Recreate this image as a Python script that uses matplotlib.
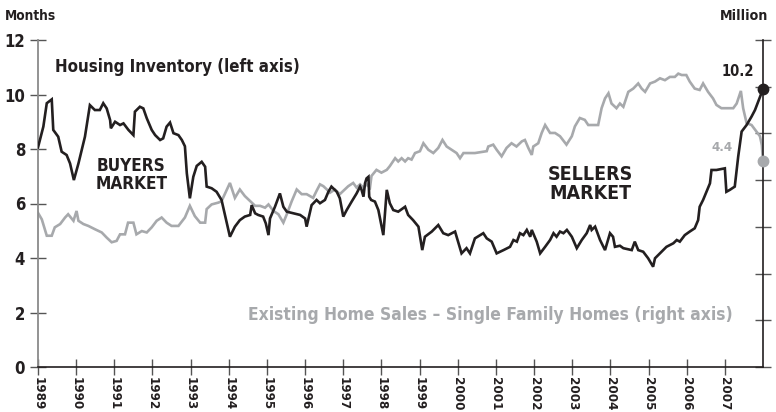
import os
import matplotlib
matplotlib.use('Agg')
import matplotlib.pyplot as plt
from matplotlib import font_manager
from matplotlib.font_manager import FontProperties

# Buscar una fuente condensada en negrita (la del original es estrecha)
preferidas = ['liberationsansnarrow-bold.ttf', 'dejavusanscondensed-bold.ttf',
              'robotocondensed-bold.ttf', 'notosans-condensedbold.ttf',
              'opensans-condensedbold.ttf', 'opensans_condensed-bold.ttf']
archivos = {os.path.basename(f.fname).lower(): f.fname for f in font_manager.fontManager.ttflist}
fuente = None
for p in preferidas:
    if p in archivos:
        fuente = archivos[p]
        break
if fuente is None:
    for n, ruta in archivos.items():
        if ('narrow' in n or 'condensed' in n) and 'bold' in n and 'italic' not in n and 'oblique' not in n:
            fuente = ruta
            break

if fuente is not None:
    FP = FontProperties(fname=fuente)
    K = 1.0
else:
    FP = FontProperties(family='DejaVu Sans', weight='bold')
    K = 0.88


def fp(size):
    f = FP.copy()
    f.set_size(size * K)
    return f


# Datos: inventario (meses, eje izquierdo)
inv_fecha = [1989.00, 1989.14, 1989.23, 1989.36, 1989.40, 1989.53, 1989.62, 1989.75, 1989.84, 1989.94,
             1990.06, 1990.23, 1990.36, 1990.49, 1990.62, 1990.71, 1990.80, 1990.89, 1990.91, 1991.02,
             1991.15, 1991.24, 1991.37, 1991.50, 1991.54, 1991.67, 1991.76, 1991.85, 1991.98, 1992.07,
             1992.20, 1992.28, 1992.37, 1992.46, 1992.55, 1992.68, 1992.77, 1992.85, 1992.90, 1992.98,
             1993.07, 1993.16, 1993.29, 1993.38, 1993.42, 1993.55, 1993.68, 1993.81, 1993.90, 1994.03,
             1994.16, 1994.29, 1994.42, 1994.56, 1994.60, 1994.69, 1994.77, 1994.90, 1994.97, 1995.04,
             1995.08, 1995.21, 1995.34, 1995.43, 1995.52, 1995.69, 1995.87, 1996.00, 1996.04, 1996.17,
             1996.30, 1996.39, 1996.52, 1996.61, 1996.69, 1996.83, 1996.91, 1997.00, 1997.09, 1997.22,
             1997.35, 1997.44, 1997.48, 1997.53, 1997.57, 1997.61, 1997.66, 1997.68, 1997.73, 1997.83,
             1997.92, 1998.05, 1998.14, 1998.22, 1998.31, 1998.44, 1998.62, 1998.70, 1998.83, 1998.97,
             1999.07, 1999.14, 1999.32, 1999.49, 1999.62, 1999.75, 1999.93, 2000.10, 2000.23, 2000.32,
             2000.45, 2000.67, 2000.76, 2000.89, 2001.02, 2001.20, 2001.37, 2001.46, 2001.55, 2001.63,
             2001.72, 2001.81, 2001.90, 2001.94, 2002.07, 2002.16, 2002.29, 2002.42, 2002.51, 2002.59,
             2002.68, 2002.77, 2002.86, 2002.99, 2003.12, 2003.25, 2003.38, 2003.47, 2003.51, 2003.60,
             2003.73, 2003.86, 2003.99, 2004.07, 2004.12, 2004.25, 2004.34, 2004.56, 2004.64, 2004.73,
             2004.86, 2004.99, 2005.12, 2005.17, 2005.30, 2005.47, 2005.65, 2005.74, 2005.82, 2005.95,
             2006.08, 2006.21, 2006.30, 2006.34, 2006.43, 2006.52, 2006.61, 2006.65, 2006.78, 2007.00,
             2007.04, 2007.13, 2007.26, 2007.35, 2007.44, 2007.57, 2007.70, 2007.79, 2008.00]
inv_meses = [8.06, 8.82, 9.68, 9.82, 8.70, 8.45, 7.90, 7.78, 7.47, 6.86,
             7.47, 8.45, 9.61, 9.43, 9.43, 9.68, 9.49, 9.06, 8.76, 9.00,
             8.88, 8.94, 8.70, 8.51, 9.37, 9.55, 9.49, 9.13, 8.70, 8.51,
             8.33, 8.39, 8.82, 8.97, 8.58, 8.51, 8.33, 8.10, 7.11, 6.19,
             6.98, 7.38, 7.53, 7.35, 6.62, 6.56, 6.43, 6.13, 5.58, 4.78,
             5.15, 5.39, 5.52, 5.58, 5.94, 5.64, 5.58, 5.52, 5.27, 4.84,
             5.45, 5.88, 6.37, 5.88, 5.70, 5.64, 5.58, 5.45, 5.15, 5.94,
             6.13, 6.01, 6.13, 6.43, 6.62, 6.43, 6.19, 5.52, 5.76, 6.07,
             6.37, 6.62, 6.50, 6.25, 6.74, 6.92, 6.98, 6.25, 6.13, 6.07,
             5.76, 4.84, 6.50, 6.01, 5.76, 5.70, 5.88, 5.58, 5.39, 5.15,
             4.29, 4.78, 4.97, 5.21, 4.91, 4.84, 4.97, 4.17, 4.36, 4.17,
             4.72, 4.91, 4.72, 4.60, 4.17, 4.29, 4.41, 4.66, 4.60, 4.91,
             4.84, 5.03, 4.78, 5.03, 4.60, 4.17, 4.41, 4.66, 4.91, 4.78,
             4.97, 4.91, 5.03, 4.78, 4.36, 4.66, 4.91, 5.21, 5.03, 5.15,
             4.66, 4.29, 4.91, 4.78, 4.41, 4.45, 4.36, 4.29, 4.60, 4.29,
             4.23, 3.99, 3.68, 3.99, 4.17, 4.41, 4.54, 4.66, 4.60, 4.84,
             4.97, 5.09, 5.39, 5.88, 6.13, 6.43, 6.74, 7.23, 7.23, 7.29,
             6.43, 6.50, 6.62, 7.72, 8.64, 8.88, 9.19, 9.43, 10.20]

# Datos: ventas de viviendas existentes (millones, eje derecho)
ven_fecha = [1989.00, 1989.10, 1989.23, 1989.36, 1989.44, 1989.58, 1989.71, 1989.79, 1989.93, 1990.01,
             1990.06, 1990.19, 1990.32, 1990.49, 1990.67, 1990.80, 1990.93, 1991.06, 1991.15, 1991.28,
             1991.36, 1991.50, 1991.58, 1991.72, 1991.85, 1991.98, 1992.11, 1992.24, 1992.37, 1992.50,
             1992.68, 1992.85, 1992.98, 1993.11, 1993.25, 1993.38, 1993.42, 1993.55, 1993.73, 1993.81,
             1994.03, 1994.16, 1994.29, 1994.42, 1994.56, 1994.69, 1994.82, 1994.95, 1995.04, 1995.17,
             1995.30, 1995.43, 1995.52, 1995.65, 1995.78, 1995.91, 1996.04, 1996.21, 1996.30, 1996.39,
             1996.48, 1996.57, 1996.65, 1996.78, 1996.91, 1997.00, 1997.13, 1997.26, 1997.35, 1997.44,
             1997.53, 1997.61, 1997.70, 1997.74, 1997.87, 1998.00, 1998.14, 1998.22, 1998.36, 1998.44,
             1998.53, 1998.62, 1998.70, 1998.79, 1998.88, 1999.01, 1999.10, 1999.23, 1999.36, 1999.49,
             1999.60, 1999.71, 1999.84, 1999.97, 2000.06, 2000.15, 2000.45, 2000.76, 2000.80, 2000.93,
             2001.02, 2001.15, 2001.28, 2001.41, 2001.54, 2001.68, 2001.76, 2001.85, 2001.94, 2001.98,
             2002.11, 2002.20, 2002.29, 2002.42, 2002.55, 2002.68, 2002.85, 2002.99, 2003.07, 2003.20,
             2003.33, 2003.42, 2003.55, 2003.68, 2003.77, 2003.86, 2003.95, 2004.03, 2004.16, 2004.25,
             2004.34, 2004.47, 2004.60, 2004.73, 2004.82, 2004.91, 2005.04, 2005.17, 2005.30, 2005.43,
             2005.56, 2005.69, 2005.78, 2005.87, 2005.99, 2006.08, 2006.21, 2006.34, 2006.43, 2006.56,
             2006.69, 2006.78, 2006.91, 2007.22, 2007.31, 2007.42, 2007.48, 2007.57, 2007.70, 2007.83,
             2007.92, 2007.97, 2008.00]
ven_millones = [3.30, 3.16, 2.81, 2.81, 2.99, 3.06, 3.20, 3.27, 3.13, 3.34,
                3.13, 3.06, 3.02, 2.95, 2.88, 2.77, 2.67, 2.70, 2.84, 2.84,
                3.09, 3.09, 2.84, 2.91, 2.88, 2.99, 3.13, 3.20, 3.09, 3.02,
                3.02, 3.20, 3.45, 3.23, 3.09, 3.09, 3.38, 3.48, 3.52, 3.55,
                3.94, 3.62, 3.80, 3.66, 3.55, 3.45, 3.45, 3.41, 3.48, 3.34,
                3.27, 3.09, 3.27, 3.55, 3.80, 3.70, 3.70, 3.62, 3.77, 3.91,
                3.87, 3.80, 3.73, 3.80, 3.70, 3.77, 3.87, 3.94, 3.84, 3.91,
                3.84, 3.91, 3.84, 4.09, 4.22, 4.16, 4.22, 4.30, 4.47, 4.40,
                4.47, 4.40, 4.47, 4.44, 4.58, 4.62, 4.79, 4.65, 4.58, 4.69,
                4.86, 4.72, 4.65, 4.58, 4.47, 4.58, 4.58, 4.62, 4.72, 4.76,
                4.65, 4.51, 4.69, 4.79, 4.72, 4.83, 4.86, 4.69, 4.54, 4.72,
                4.79, 5.01, 5.18, 5.01, 5.01, 4.94, 4.76, 4.94, 5.15, 5.33,
                5.29, 5.18, 5.18, 5.18, 5.54, 5.75, 5.86, 5.64, 5.54, 5.64,
                5.57, 5.89, 5.96, 6.07, 5.96, 5.89, 6.07, 6.11, 6.18, 6.14,
                6.21, 6.21, 6.28, 6.25, 6.25, 6.11, 5.96, 5.93, 6.07, 5.89,
                5.75, 5.61, 5.54, 5.54, 5.64, 5.91, 5.54, 5.22, 5.18, 5.04,
                4.94, 4.75, 4.40]

anios = list(range(1989, 2008))
ticks_izq = [0, 2, 4, 6, 8, 10, 12]
ticks_der = [0, 1, 2, 3, 4, 5, 6, 7]

NEGRO = '#231f20'
GRIS = '#a7a9ac'
EJE = '#555555'

fig = plt.figure(figsize=(7.76, 4.12), dpi=100)
ax = fig.add_axes([38/776, 45/412, 725/776, 327/412])
ax2 = ax.twinx()

# Lineas
ax2.plot(ven_fecha, ven_millones, color=GRIS, lw=1.9, solid_joinstyle='miter', zorder=2)
ax2.plot(ven_fecha[-1], ven_millones[-1], 'o', color=GRIS, ms=7.5, clip_on=False, zorder=3)
ax.plot(inv_fecha, inv_meses, color=NEGRO, lw=1.9, solid_joinstyle='miter', zorder=3)
ax.plot(inv_fecha[-1], inv_meses[-1], 'o', color=NEGRO, ms=7.5, clip_on=False, zorder=4)

ax.set_zorder(ax2.get_zorder() + 1)
ax.patch.set_visible(False)

# Ejes
ax.set_xlim(1989, 2008)
ax.set_ylim(0, 12)
ax2.set_ylim(0, 7)

ax.set_xticks(anios)
ax.set_xticklabels([str(a) for a in anios], rotation=-90, fontproperties=fp(9.5), color=NEGRO)
ax.set_yticks(ticks_izq)
ax.set_yticklabels([str(t) for t in ticks_izq], fontproperties=fp(12), color=NEGRO)
ax2.set_yticks(ticks_der)
ax2.set_yticklabels([])

ax.tick_params(axis='x', direction='inout', length=12, width=1.0, color=EJE, pad=1.5)
ax.tick_params(axis='y', direction='inout', length=11.5, width=1.0, color=EJE, pad=3.5)
ax2.tick_params(axis='y', direction='inout', length=11, width=1.0, color=EJE)

for a in (ax, ax2):
    a.spines['top'].set_visible(False)
ax.spines['left'].set_color('#8a8a8a')
ax.spines['left'].set_linewidth(1.3)
ax.spines['bottom'].set_color(NEGRO)
ax.spines['bottom'].set_linewidth(1.2)
ax2.spines['right'].set_color(NEGRO)
ax2.spines['right'].set_linewidth(1.2)
ax2.spines['left'].set_visible(False)
ax2.spines['bottom'].set_visible(False)
ax.spines['right'].set_visible(False)

# Textos
fig.text(5/776, 1 - 16/412, 'Months', fontproperties=fp(9.8), color=NEGRO, ha='left', va='center')
fig.text(768/776, 1 - 16/412, 'Million', fontproperties=fp(10.2), color=NEGRO, ha='right', va='center')

ax.text(1989.45, 11.0, 'Housing Inventory (left axis)', fontproperties=fp(12.2),
        color=NEGRO, ha='left', va='center')
ax.text(1991.45, 7.05, 'BUYERS\nMARKET', fontproperties=fp(12.3), color=NEGRO,
        ha='center', va='center', linespacing=1.0)
ax.text(2003.47, 6.7, 'SELLERS\nMARKET', fontproperties=fp(14), color=NEGRO,
        ha='center', va='center', linespacing=1.0)
ax.text(2000.85, 1.9, 'Existing Home Sales \u2013 Single Family Homes (right axis)', fontproperties=fp(12.5),
        color=GRIS, ha='center', va='center')
ax.text(2007.76, 10.86, '10.2', fontproperties=fp(10.5), color=NEGRO, ha='right', va='center')
ax.text(2007.21, 8.04, '4.4', fontproperties=fp(9.5), color=GRIS, ha='right', va='center')

plt.savefig('out.png', dpi=100, facecolor='white')
